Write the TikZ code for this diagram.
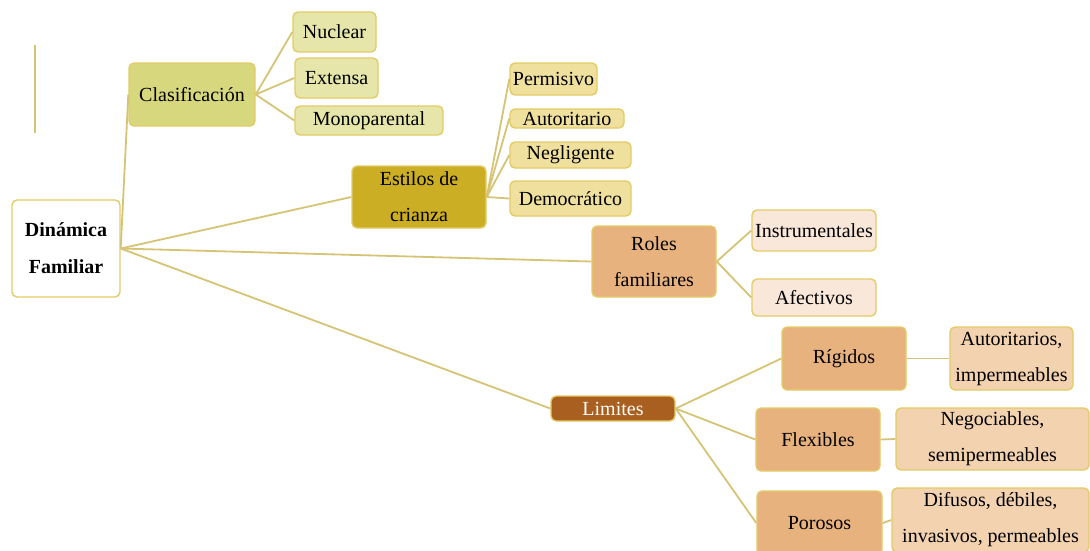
\documentclass[tikz,border=0pt]{standalone}
\usepackage{fontspec}
\setmainfont{Liberation Serif}
\definecolor{edge}{HTML}{D6C476}
\definecolor{bord}{HTML}{E3CB66}
\definecolor{cClas}{HTML}{D7D77E}
\definecolor{cClasL}{HTML}{E6E6AA}
\definecolor{cEst}{HTML}{CBAE24}
\definecolor{cEstL}{HTML}{EFE09E}
\definecolor{cRol}{HTML}{E8B27F}
\definecolor{cRolL}{HTML}{F9E7D9}
\definecolor{cLim}{HTML}{A85F1F}
\definecolor{cLimL}{HTML}{F3D2B0}
\tikzset{
  box/.style={draw=bord, line width=1.4pt, rounded corners=5pt, inner sep=0pt,
    align=center, font=\fontsize{20}{36}\selectfont, text=black},
  conn/.style={draw=edge, line width=1.8pt},
}
\begin{document}
\begin{tikzpicture}[x=1pt,y=-1pt]
\useasboundingbox (0,0) rectangle (1090,550);
\fill[white] (0,0) rectangle (1090,550);
% stray vertical line
\coordinate (s1) at (35,45);
\coordinate (s2) at (35,133);
\draw[conn, line width=1.2pt] (s1) -- (s2);

% nodes
\node[box, fill=white, minimum width=108pt, minimum height=97pt, font=\fontsize{20}{37}\selectfont\bfseries] (dyn) at (66,248.5) {Dinámica\\Familiar};

\node[box, fill=cClas, minimum width=126pt, minimum height=63pt] (clas) at (192,94.5) {Clasificación};
\node[box, fill=cClasL, minimum width=83pt, minimum height=40pt] (nuc) at (334.5,32) {Nuclear};
\node[box, fill=cClasL, minimum width=83pt, minimum height=40pt] (ext) at (336.5,78) {Extensa};
\node[box, fill=cClasL, minimum width=148pt, minimum height=29pt] (mono) at (369,120.5) {Monoparental};

\node[box, fill=cEst, minimum width=134pt, minimum height=62pt] (est) at (419,197) {Estilos de\\crianza};
\node[box, fill=cEstL, minimum width=87pt, minimum height=32pt] (perm) at (553.5,79) {Permisivo};
\node[box, fill=cEstL, minimum width=114pt, minimum height=19pt] (auto) at (567,118.5) {Autoritario};
\node[box, fill=cEstL, minimum width=121pt, minimum height=26pt] (negl) at (570.5,155) {Negligente};
\node[box, fill=cEstL, minimum width=121pt, minimum height=35pt] (demo) at (570.5,198.5) {Democrático};

\node[box, fill=cRol, minimum width=124pt, minimum height=71pt] (rol) at (654,261.5) {Roles\\familiares};
\node[box, fill=cRolL, minimum width=124pt, minimum height=41pt] (inst) at (814,230.5) {Instrumentales};
\node[box, fill=cRolL, minimum width=124pt, minimum height=37pt] (afec) at (814,297.5) {Afectivos};

\node[box, fill=cLim, text=white, minimum width=124pt, minimum height=25pt] (lim) at (613,408.5) {Limites};
\node[box, fill=cRol, minimum width=124pt, minimum height=63pt] (rig) at (844,358.5) {Rígidos};
\node[box, fill=cLimL, minimum width=123pt, minimum height=63pt] (rigd) at (1011.5,358.5) {Autoritarios,\\impermeables};
\node[box, fill=cRol, minimum width=124pt, minimum height=63pt] (flex) at (818,439.5) {Flexibles};
\node[box, fill=cLimL, minimum width=193pt, minimum height=62pt] (flexd) at (992.5,439) {Negociables,\\semipermeables};
\node[box, fill=cRol, minimum width=125pt, minimum height=64pt] (por) at (819.5,523) {Porosos};
\node[box, fill=cLimL, minimum width=197pt, minimum height=64pt] (pord) at (990.5,520) {Difusos, débiles,\\invasivos, permeables};

% connectors
\path[conn] (dyn.east) -- (clas.west);
\path[conn] (dyn.east) -- (est.west);
\path[conn] (dyn.east) -- (rol.west);
\path[conn] (dyn.east) -- (lim.west);
\path[conn] (clas.east) -- (nuc.west);
\path[conn] (clas.east) -- (ext.west);
\path[conn] (clas.east) -- (mono.west);
\path[conn] (est.east) -- (perm.west);
\path[conn] (est.east) -- (auto.west);
\path[conn] (est.east) -- (negl.west);
\path[conn] (est.east) -- (demo.west);
\path[conn] (rol.east) -- (inst.west);
\path[conn] (rol.east) -- (afec.west);
\path[conn] (lim.east) -- (rig.west);
\path[conn] (lim.east) -- (flex.west);
\path[conn] (lim.east) -- (por.west);
\path[conn] (rig.east) -- (rigd.west);
\path[conn] (flex.east) -- (flexd.west);
\path[conn] (por.east) -- (pord.west);
\end{tikzpicture}
\end{document}
